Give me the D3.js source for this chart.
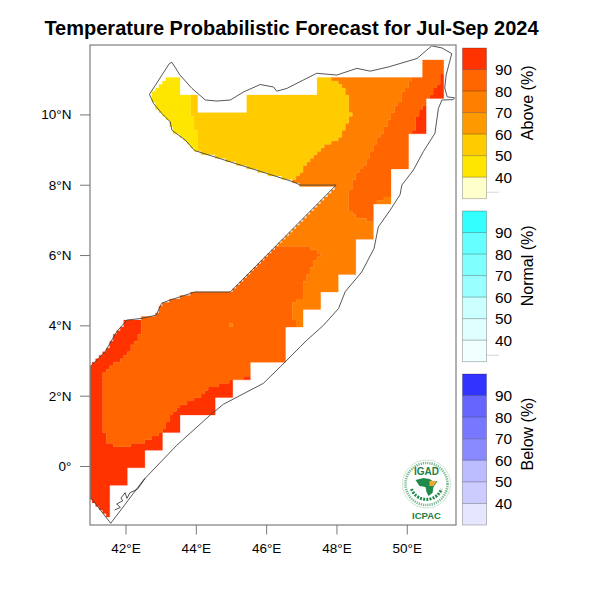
<!DOCTYPE html>
<html><head><meta charset="utf-8"><script src="https://cdn.jsdelivr.net/npm/d3@7"></script>
<style>html,body{margin:0;background:#fff}svg{display:block}text{font-family:"Liberation Sans",Arial,sans-serif;fill:#000}</style></head>
<body><svg id="c" width="600" height="600"></svg>
<script>
const titleText="Temperature Probabilistic Forecast for Jul-Sep 2024";
const lonTicks=[42,44,46,48,50], latTicks=[0,2,4,6,8,10];
const legendTicks=[40,50,60,70,80,90];
const legendEdges=[30,40,50,60,70,80,90,100];
const aboveColors=["#FFFFCC","#FFE600","#FFCC00","#FF9900","#FF8000","#FF6600","#FF3300"];
const normalColors=["#F0FFFF","#E0FFFF","#CCFFFF","#99FFFF","#80FFFF","#66FFFF","#33FFFF"];
const belowColors=["#E6E6FF","#CCCCFF","#BBBBFF","#8888FF","#7777FF","#6666FF","#3333FF"];
// forecast footprint (lon, lat)
const footprint=[[40.95,-0.87],[41.55,-1.46],[41.55,-0.55],[42.05,-0.55],[42.05,-0.05],[42.55,-0.05],[42.55,0.45],[43.05,0.45],[43.05,0.95],[43.55,0.95],[43.55,1.45],[44.55,1.45],[44.55,1.95],[45.05,1.95],[45.05,2.45],[45.55,2.45],[45.55,2.95],[46.55,2.95],[46.55,3.95],[47.05,3.95],[47.05,4.45],[47.55,4.45],[47.55,4.95],[48.05,4.95],[48.05,5.45],[48.55,5.45],[48.55,6.45],[49.05,6.45],[49.05,7.45],[49.55,7.45],[49.55,8.45],[50.05,8.45],[50.05,9.45],[50.55,9.45],[50.55,10.45],[51.05,10.45],[51.05,11.55],[50.45,11.55],[50.45,11.05],[47.45,11.05],[47.45,10.55],[45.45,10.55],[45.45,10.05],[44.05,10.05],[44.05,10.55],[43.55,10.55],[43.55,11.05],[43.15,11.05],[42.68,10.57],[42.8,10.31],[43.03,10.03],[43.27,9.79],[43.32,9.55],[43.7,9.27],[43.97,8.97],[46.78,8.08],[46.97,7.99],[47.99,7.99],[44.98,4.92],[43.98,4.95],[43.27,4.72],[43.03,4.63],[42.87,4.29],[42.47,4.2],[42.04,4.15],[41.75,3.82],[41.42,3.25],[41.04,2.87],[40.95,2.8]];
// probability zones, painted in order over the 70-80 base
const zone50=[[47.82,11.04],[48.11,10.88],[48.25,10.69],[48.34,10.5],[48.34,10.03],[48.44,10.03],[48.44,9.93],[48.34,9.89],[48.29,9.7],[48.15,9.46],[48.01,9.27],[47.82,9.17],[47.58,9.03],[47.35,8.8],[47.16,8.65],[47.02,8.37],[46.78,8.13],[46,7.9],[42,9.5],[42,12],[47.82,12]];
const zone40=[[43.84,10.55],[43.84,9.98],[43.94,9.96],[43.95,9.53],[44.05,9.51],[44.05,9.17],[44.03,8.94],[43.5,8.8],[42,10],[42,12],[43.84,12]];
const zone80North=[[50.14,11.04],[50.05,10.88],[49.91,10.64],[49.76,10.31],[49.62,10.12],[49.43,9.65],[49.2,9.32],[49.1,9.13],[48.86,8.65],[48.63,8.42],[48.48,8.13],[48.37,7.75],[48.37,7.28],[48.58,7.04],[48.86,7],[49.05,6.95],[49.05,7.45],[49.2,7.55],[49.35,7.62],[49.7,7.62],[52,9],[52,12],[50.14,12]];
const zone80South=[[45.5,6.6],[46.26,6.3],[46.68,6.24],[47.25,6.22],[47.44,6.09],[47.54,5.97],[47.35,5.86],[47.3,5.67],[47.16,5.38],[47.06,5.1],[47.01,4.8],[46.78,4.62],[46.76,4.25],[46.87,3.96],[46.87,3.7],[46.6,2.8],[44,-1],[40.5,-1],[40.5,5]];
const zone90South=[[42.45,5],[42.45,3.82],[42.34,3.63],[42.23,3.49],[42.13,3.35],[42.04,3.16],[41.85,3.03],[41.66,2.87],[41.57,2.78],[41.36,2.63],[41.36,0.98],[41.45,0.93],[41.45,0.64],[41.66,0.6],[41.94,0.5],[42.23,0.63],[42.56,0.69],[42.75,0.83],[43.03,0.93],[43.16,1.23],[43.32,1.45],[43.56,1.69],[44.03,1.92],[44.36,2.24],[44.55,2.26],[45.05,2.45],[45.35,2.45],[45.35,2.52],[45.55,2.52],[46,2.52],[46,1],[41.6,-2],[40.5,-2],[40.5,5]];
const zone90East=[[50.14,9.43],[50.24,9.7],[50.33,10.03],[50.47,10.17],[50.55,10.25],[50.7,10.25],[50.7,9.3],[50.14,9.3]];
const zone90Tip=[[51.04,11.16],[50.95,11.12],[50.9,10.88],[50.76,10.64],[50.63,10.43],[50.63,10.3],[51.2,10.3],[51.2,11.16]];
const spot70=[[44.95,3.95],[45.05,3.95],[45.05,4.05],[44.95,4.05]];
// national outline
const outline=[[41.58,-1.63],[42.51,-0.4],[43.46,0.59],[44.41,1.45],[44.79,1.76],[45.92,2.35],[46.4,2.82],[46.97,3.39],[47.16,3.58],[47.63,4.0],[48.06,4.48],[48.25,4.96],[48.72,5.52],[49.07,6.19],[49.19,6.8],[49.53,7.28],[49.81,7.72],[49.86,7.99],[50.19,8.42],[50.47,8.94],[50.8,9.46],[50.9,10.17],[51.0,10.41],[51.32,10.42],[51.36,10.47],[51.15,10.5],[51.08,10.75],[51.12,11.12],[51.28,11.73],[51.0,11.89],[50.71,11.95],[50.57,11.83],[50.29,11.59],[49.48,11.35],[48.96,11.23],[48.58,11.31],[48.01,11.12],[47.44,11.17],[47.06,10.98],[46.59,10.74],[46.3,10.66],[46.21,10.78],[45.83,10.85],[45.36,10.64],[44.98,10.41],[44.6,10.38],[44.27,10.41],[43.89,10.74],[43.55,11.12],[43.32,11.48],[43.25,11.45],[42.68,10.57],[42.8,10.31],[43.03,10.03],[43.27,9.79],[43.32,9.55],[43.7,9.27],[43.97,8.97],[46.78,8.08],[46.97,7.99],[47.99,7.99],[44.98,4.95],[43.98,4.95],[43.27,4.72],[43.03,4.63],[42.87,4.29],[42.47,4.2],[42.04,4.15],[41.75,3.82],[41.42,3.25],[41.04,2.87],[40.99,2.82],[40.99,-0.87],[41.58,-1.63]];
const islands=[[41.69,-1.25],[41.85,-1.18],[41.75,-1.08],[41.92,-0.99],[41.87,-0.91],[41.99,-0.76],[42.04,-0.92],[42.13,-0.76],[42.34,-0.66],[42.56,-0.35]];

const svg=d3.select("#c");
const x=d3.scaleLinear().domain([40.99,51.4]).range([90,456]);
const y=d3.scaleLinear().domain([-1.65,11.96]).range([524,45.5]);
const zones=[[zone50,"#FFCC00"],[zone40,"#FFE600"],[zone80North,"#FF6600"],[zone80South,"#FF6600"],[zone90South,"#FF3300"],[zone90East,"#FF3300"],[zone90Tip,"#FF3300"],[spot70,"#FF8000"]];
const cellPaths=new Map();
svg.append("defs").append("clipPath").attr("id","box").append("rect").attr("x",90).attr("y",45).attr("width",366).attr("height",480);
for(let j=-17;j<=116;j++){
  const lat=j/10; let run=null;
  const flush=()=>{ if(run){ const d=cellPaths.get(run.c)||[]; d.push(`M${x(run.a/10-.05)},${y(lat+.05)}H${x(run.b/10+.05)}V${y(lat-.05)}H${x(run.a/10-.05)}Z`); cellPaths.set(run.c,d); run=null; } };
  for(let i=410;i<=510;i++){
    const p=[i/10,lat]; let c=null;
    if(d3.polygonContains(footprint,p)){ c="#FF8000"; for(const [poly,col] of zones) if(d3.polygonContains(poly,p)) c=col; }
    if(run&&run.c===c) run.b=i; else { flush(); if(c) run={c,a:i,b:i}; }
  }
  flush();
}
const g=svg.append("g").attr("clip-path","url(#box)");
for(const [c,d] of cellPaths) g.append("path").attr("d",d.join("")).attr("fill",c).attr("stroke",c).attr("stroke-width",.3);
const line=d3.line().x(d=>x(d[0])).y(d=>y(d[1]));
g.append("path").attr("d",line(outline)).attr("fill","none").attr("stroke","#444").attr("stroke-width",.9);
g.append("path").attr("d",line(islands)).attr("fill","none").attr("stroke","#222").attr("stroke-width",.8);

// logo
const logo=svg.append("g").attr("transform","translate(426.5,484)");
logo.append("circle").attr("r",24).attr("fill","#fff").attr("stroke","#cfe5d6").attr("stroke-width",1);
logo.append("circle").attr("r",21).attr("fill","none").attr("stroke","#3d9a62").attr("stroke-width",2.6).attr("stroke-dasharray","1.2 1").attr("opacity",.7);
logo.append("circle").attr("r",18).attr("fill","#fff");
logo.append("path").attr("d","M-15,5A16,16 0 0 0 15,5").attr("fill","none").attr("stroke","#1f8a4c").attr("stroke-width",3).attr("stroke-dasharray","2 1.2");
logo.append("path").attr("d","M-11,-4L-3,-6L3,-5L6,-3L11,-3L7,3L6,9L2,12L0,8L-1,3L-7,2Z").attr("fill","#1f8a4c");
logo.append("path").attr("d","M3,-3L10,-3L7,2L3,2Z").attr("fill","#f0a830");
logo.append("text").attr("y",-9).attr("text-anchor","middle").attr("font-size",10).attr("font-weight","bold").style("fill","#1f7f45").text("IGAD");
logo.append("text").attr("y",35).attr("text-anchor","middle").attr("font-size",9.5).attr("font-weight","bold").style("fill","#1f7f45").text("ICPAC");

// frame and axes
svg.append("rect").attr("x",90).attr("y",45).attr("width",366).attr("height",480).attr("fill","none").attr("stroke","#888").attr("stroke-width",1.3);
const ax=svg.append("g").attr("transform","translate(0,525)").call(d3.axisBottom(x).tickValues(lonTicks).tickSize(9.5).tickPadding(9).tickFormat(d=>d+"°E"));
const ay=svg.append("g").attr("transform","translate(90,0)").call(d3.axisLeft(y).tickValues(latTicks).tickSize(10).tickPadding(8.5).tickFormat(d=>d===0?"0°":d+"°N"));
for(const a of [ax,ay]){a.select(".domain").remove();a.selectAll("line").attr("stroke","#777").attr("stroke-width",1);a.selectAll("text").attr("font-size",13.5).style("font-family",'"Liberation Sans"');}

// legends
function legend(top,bottom,colors,label){
  const s=d3.scaleLinear().domain([30,100]).range([bottom,top]);
  const l=svg.append("g");
  l.selectAll("rect").data(colors).join("rect").attr("x",462.5).attr("width",24).attr("y",(d,i)=>s(legendEdges[i+1])).attr("height",(d,i)=>s(legendEdges[i])-s(legendEdges[i+1])).attr("fill",d=>d);
  l.selectAll("line.sep").data(legendEdges.slice(1,-1)).join("line").attr("class","sep").attr("x1",462.5).attr("x2",486.5).attr("y1",s).attr("y2",s).attr("stroke","#000").attr("stroke-opacity",.35).attr("stroke-width",.8);
  l.append("rect").attr("x",462.5).attr("width",24).attr("y",top).attr("height",bottom-top).attr("fill","none").attr("stroke","#000").attr("stroke-opacity",.3).attr("stroke-width",.8);
  l.selectAll("text.t").data(legendTicks).join("text").attr("class","t").attr("x",495).attr("y",s).attr("dy","0.36em").attr("font-size",15.4).text(d=>d);
  l.append("text").attr("transform",`translate(533,${(top+bottom)/2-(label==="Below (%)"?15.5:20.5)}) rotate(-90)`).attr("text-anchor","middle").attr("font-size",16).text(label);
  return s;
}
const sAbove=legend(48,198.7,aboveColors,"Above (%)");
const sNormal=legend(211,361.7,normalColors,"Normal (%)");
legend(374,525,belowColors,"Below (%)");
for(const [s,v] of [[sAbove,33],[sNormal,33]]) svg.append("line").attr("x1",486.5).attr("x2",499).attr("y1",s(v)).attr("y2",s(v)).attr("stroke","#999").attr("stroke-width",.8).attr("stroke-dasharray","1 1");

svg.append("text").attr("x",291.5).attr("y",35).attr("text-anchor","middle").attr("font-size",20).attr("font-weight","bold").text(titleText);
</script></body></html>
